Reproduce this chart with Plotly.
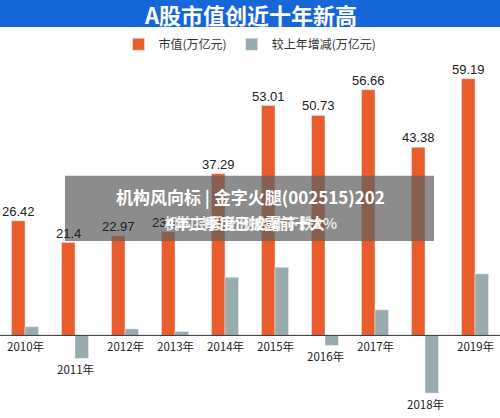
import plotly.graph_objects as go

years = ["2010年", "2011年", "2012年", "2013年", "2014年", "2015年", "2016年", "2017年", "2018年", "2019年"]
market_value = [26.42, 21.4, 22.97, 23.91, 37.29, 53.01, 50.73, 56.66, 43.38, 59.19]
change = [2.0, -5.3, 1.5, 0.9, 13.4, 15.7, -2.3, 5.9, -13.3, 14.2]

FONT = "Noto Sans CJK SC"

fig = go.Figure()
fig.add_trace(go.Bar(x=years, y=market_value, name="市值(万亿元)", marker_color="#e95d2c"))
fig.add_trace(go.Bar(x=years, y=change, name="较上年增减(万亿元)", marker_color="#9aabaf"))

# value labels above the orange bars, left of group centre
for yr, v in zip(years, market_value):
    fig.add_annotation(x=yr, y=v, text=f"{v:g}", showarrow=False, yanchor="bottom", xshift=-7,
                       font=dict(size=13, color="#222", family="Liberation Sans"))

# year labels sit under the axis, or under the bar when it goes negative
for yr, c in zip(years, change):
    fig.add_annotation(x=yr, y=min(c, 0), text=yr, showarrow=False, yanchor="top",
                       yshift=-1, font=dict(size=11.5, color="#222", family=FONT))

fig.add_shape(type="rect", xref="paper", yref="paper", x0=-0.01, x1=1.01, y0=1.094, y1=1.175,
              fillcolor="#1766d8", line_width=0)
fig.add_annotation(xref="paper", yref="paper", x=0.5, y=1.131, yanchor="middle",
                   text="<b>A股市值创近十年新高</b>",
                   showarrow=False, font=dict(size=22, color="white", family=FONT))

# overlay box
fig.add_shape(type="rect", xref="paper", yref="paper", x0=0.13, x1=0.868, y0=0.483, y1=0.669,
              fillcolor="rgba(95,95,95,0.72)", line_width=0, layer="above")
fig.add_annotation(xref="paper", yref="paper", x=0.5, y=0.609, yanchor="middle",
                   text="<b>机构风向标 | 金字火腿(002515)202</b>",
                   showarrow=False, font=dict(size=17, color="white", family=FONT))
fig.add_annotation(xref="paper", yref="paper", x=0.49, y=0.537, yanchor="middle",
                   text="<b>4年二季度已披露前十大</b>",
                   showarrow=False, font=dict(size=15, color="white", family=FONT))
fig.add_annotation(xref="paper", yref="paper", x=0.5, y=0.537, yanchor="middle",
                   text="<b>机构持股比例合计下跌2%</b>",
                   showarrow=False, font=dict(size=15, color="rgba(255,255,255,0.8)", family=FONT))

fig.update_layout(
    width=500, height=418, margin=dict(l=0, r=0, t=60, b=8),
    plot_bgcolor="white", paper_bgcolor="white",
    barmode="group", bargap=0.46, bargroupgap=0,
    font=dict(family=FONT),
    showlegend=True,
    legend=dict(orientation="h", x=0.5, xanchor="center", y=1.045, yanchor="middle",
                bgcolor="rgba(0,0,0,0)", font=dict(size=12, color="#333")),
    xaxis=dict(showticklabels=False, showgrid=False, range=[-0.5, 9.5]),
    yaxis=dict(visible=False, range=[-17.2, 63.5], zeroline=True),
)
fig.add_hline(y=0, line_color="#333", line_width=1)

fig.write_html("out.html", config={"displayModeBar": False},
               post_script="document.body.style.margin='0';document.body.style.overflow='hidden';")
